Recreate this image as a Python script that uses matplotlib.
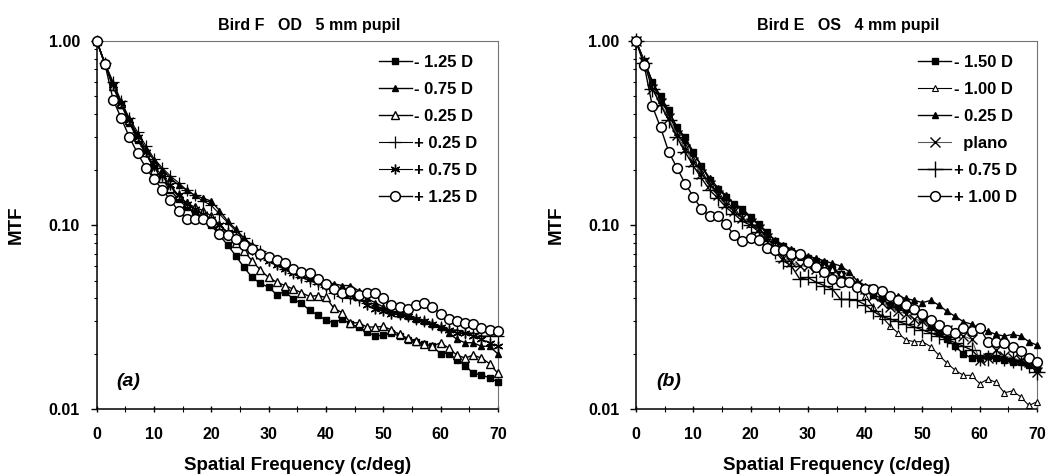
import numpy as np
import matplotlib
matplotlib.use("Agg")
import matplotlib.pyplot as plt
from matplotlib.ticker import FixedLocator, NullFormatter, LogLocator

plt.rcParams['font.family'] = ['Liberation Sans', 'DejaVu Sans']
plt.rcParams['font.weight'] = 'bold'

# Spatial frequency samples (c/deg)
freq = [0.00, 1.43, 2.86, 4.29, 5.71, 7.14, 8.57, 10.00, 11.43, 12.86,
        14.29, 15.71, 17.14, 18.57, 20.00, 21.43, 22.86, 24.29, 25.71, 27.14,
        28.57, 30.00, 31.43, 32.86, 34.29, 35.71, 37.14, 38.57, 40.00, 41.43,
        42.86, 44.29, 45.71, 47.14, 48.57, 50.00, 51.43, 52.86, 54.29, 55.71,
        57.14, 58.57, 60.00, 61.43, 62.86, 64.29, 65.71, 67.14, 68.57, 70.00]

# ---- Panel (a): Bird F, OD, 5 mm pupil ----
a_labels = ["- 1.25 D", "- 0.75 D", "- 0.25 D", "+ 0.25 D", "+ 0.75 D", "+ 1.25 D"]
a_m125 = [1.0, 0.75, 0.56, 0.45, 0.36, 0.29, 0.245, 0.205, 0.178, 0.155,
          0.138, 0.125, 0.118, 0.11, 0.10, 0.088, 0.078, 0.068, 0.059, 0.052,
          0.0483, 0.046, 0.042, 0.0436, 0.0397, 0.0376, 0.0346, 0.0325, 0.0305, 0.0295,
          0.031, 0.029, 0.028, 0.0264, 0.025, 0.0253, 0.026, 0.025, 0.0238, 0.0233,
          0.0226, 0.022, 0.0201, 0.0201, 0.0186, 0.0173, 0.0157, 0.0154, 0.0148, 0.0141]
a_m075 = [1.0, 0.75, 0.58, 0.45, 0.37, 0.31, 0.26, 0.225, 0.20, 0.18,
          0.165, 0.155, 0.145, 0.14, 0.135, 0.12, 0.105, 0.095, 0.085, 0.078,
          0.072, 0.066, 0.063, 0.060, 0.057, 0.055, 0.053, 0.051, 0.049, 0.048,
          0.047, 0.047, 0.044, 0.040, 0.038, 0.036, 0.034, 0.033, 0.032, 0.031,
          0.030, 0.029, 0.028, 0.026, 0.024, 0.023, 0.023, 0.022, 0.022, 0.020]
a_m025 = [1.0, 0.75, 0.57, 0.46, 0.37, 0.30, 0.25, 0.20, 0.18, 0.16,
          0.145, 0.132, 0.125, 0.12, 0.112, 0.10, 0.09, 0.08, 0.072, 0.064,
          0.057, 0.052, 0.049, 0.047, 0.045, 0.043, 0.041, 0.0415, 0.0405, 0.0353,
          0.0335, 0.0295, 0.0295, 0.028, 0.028, 0.0282, 0.027, 0.0255, 0.0243, 0.0235,
          0.0226, 0.022, 0.023, 0.0215, 0.0197, 0.019, 0.0197, 0.019, 0.0177, 0.0157]
a_p025 = [1.0, 0.76, 0.60, 0.47, 0.38, 0.32, 0.27, 0.23, 0.205, 0.185,
          0.17, 0.155, 0.145, 0.135, 0.128, 0.115, 0.103, 0.093, 0.085, 0.078,
          0.072, 0.065, 0.062, 0.058, 0.055, 0.052, 0.050, 0.048, 0.046, 0.043,
          0.041, 0.040, 0.039, 0.038, 0.036, 0.035, 0.034, 0.033, 0.032, 0.031,
          0.030, 0.029, 0.028, 0.027, 0.027, 0.026, 0.026, 0.025, 0.025, 0.025]
a_p075 = [1.0, 0.76, 0.58, 0.46, 0.37, 0.30, 0.25, 0.21, 0.185, 0.165,
          0.145, 0.13, 0.122, 0.115, 0.108, 0.10, 0.092, 0.085, 0.079, 0.073,
          0.068, 0.064, 0.061, 0.058, 0.055, 0.053, 0.051, 0.049, 0.047, 0.045,
          0.044, 0.042, 0.040, 0.037, 0.035, 0.034, 0.033, 0.033, 0.032, 0.031,
          0.030, 0.029, 0.028, 0.027, 0.026, 0.026, 0.025, 0.024, 0.023, 0.022]
a_p125 = [1.0, 0.75, 0.48, 0.38, 0.30, 0.245, 0.205, 0.178, 0.156, 0.137,
          0.119, 0.108, 0.108, 0.108, 0.104, 0.090, 0.088, 0.084, 0.078, 0.074,
          0.070, 0.067, 0.065, 0.062, 0.058, 0.056, 0.055, 0.051, 0.048, 0.045,
          0.043, 0.044, 0.042, 0.043, 0.043, 0.040, 0.037, 0.036, 0.035, 0.037,
          0.038, 0.036, 0.033, 0.031, 0.030, 0.0295, 0.029, 0.0275, 0.027, 0.0265]

# ---- Panel (b): Bird E, OS, 4 mm pupil ----
b_labels = ["- 1.50 D", "- 1.00 D", "- 0.25 D", "  plano", "+ 0.75 D", "+ 1.00 D"]
b_m150 = [1.0, 0.78, 0.60, 0.50, 0.42, 0.34, 0.30, 0.25, 0.21, 0.175,
          0.157, 0.143, 0.131, 0.123, 0.111, 0.101, 0.092, 0.082, 0.077, 0.072,
          0.069, 0.066, 0.064, 0.062, 0.058, 0.054, 0.050, 0.047, 0.045, 0.042,
          0.040, 0.037, 0.036, 0.035, 0.034, 0.031, 0.028, 0.026, 0.024, 0.022,
          0.020, 0.019, 0.019, 0.0195, 0.019, 0.0185, 0.018, 0.018, 0.0175, 0.0165]
b_m100 = [1.0, 0.78, 0.58, 0.48, 0.40, 0.32, 0.27, 0.23, 0.195, 0.17,
          0.15, 0.135, 0.122, 0.11, 0.102, 0.095, 0.087, 0.08, 0.074, 0.07,
          0.067, 0.064, 0.062, 0.060, 0.058, 0.055, 0.050, 0.046, 0.041, 0.036,
          0.032, 0.0285, 0.026, 0.0238, 0.0233, 0.0233, 0.0219, 0.0197, 0.0178, 0.0163,
          0.0153, 0.0153, 0.0138, 0.0146, 0.014, 0.0123, 0.0126, 0.0117, 0.0105, 0.011]
b_m025 = [1.0, 0.78, 0.60, 0.49, 0.41, 0.34, 0.29, 0.245, 0.21, 0.18,
          0.16, 0.145, 0.13, 0.12, 0.11, 0.10, 0.09, 0.083, 0.078, 0.074,
          0.071, 0.068, 0.066, 0.064, 0.062, 0.060, 0.056, 0.050, 0.047, 0.045,
          0.044, 0.042, 0.041, 0.040, 0.039, 0.038, 0.039, 0.0368, 0.034, 0.032,
          0.0299, 0.029, 0.0275, 0.0265, 0.0255, 0.025, 0.0255, 0.025, 0.0233, 0.0223]
b_plano = [1.0, 0.77, 0.55, 0.46, 0.38, 0.31, 0.26, 0.22, 0.19, 0.165,
           0.145, 0.13, 0.12, 0.11, 0.103, 0.095, 0.085, 0.075, 0.066, 0.063,
           0.060, 0.060, 0.058, 0.056, 0.054, 0.052, 0.050, 0.048, 0.045, 0.041,
           0.038, 0.036, 0.034, 0.033, 0.031, 0.030, 0.029, 0.028, 0.027, 0.026,
           0.025, 0.024, 0.0185, 0.019, 0.021, 0.0195, 0.019, 0.0185, 0.018, 0.016]
b_p075 = [1.0, 0.76, 0.55, 0.45, 0.37, 0.30, 0.25, 0.21, 0.18, 0.155,
          0.14, 0.125, 0.115, 0.105, 0.10, 0.092, 0.082, 0.072, 0.064, 0.060,
          0.051, 0.052, 0.049, 0.047, 0.045, 0.0395, 0.0395, 0.039, 0.037, 0.034,
          0.032, 0.031, 0.030, 0.029, 0.028, 0.027, 0.026, 0.025, 0.024, 0.023,
          0.022, 0.021, 0.019, 0.019, 0.0195, 0.019, 0.0185, 0.018, 0.0175, 0.016]
b_p100 = [1.0, 0.738, 0.442, 0.339, 0.25, 0.205, 0.168, 0.143, 0.122, 0.112,
          0.112, 0.101, 0.088, 0.082, 0.085, 0.083, 0.075, 0.073, 0.073, 0.070,
          0.070, 0.063, 0.059, 0.056, 0.051, 0.049, 0.049, 0.046, 0.045, 0.045,
          0.044, 0.041, 0.039, 0.037, 0.035, 0.033, 0.0305, 0.0287, 0.027, 0.0259,
          0.0275, 0.0266, 0.0275, 0.0233, 0.0233, 0.023, 0.0218, 0.0207, 0.019, 0.0181]

a_series = [a_m125, a_m075, a_m025, a_p025, a_p075, a_p125]
b_series = [b_m150, b_m100, b_m025, b_plano, b_p075, b_p100]

a_styles = [
    dict(marker='s', ms=4, mfc='black', mec='black', color='black', lw=1.0),
    dict(marker='^', ms=4.5, mfc='black', mec='black', color='black', lw=1.0),
    dict(marker='^', ms=6, mfc='white', mec='black', mew=1.0, color='black', lw=1.0),
    dict(marker='+', ms=9, mec='black', mew=0.9, color='black', lw=0.8),
    dict(marker=(6, 2, 0), ms=7, mec='black', mew=1.0, color='black', lw=0.8),
    dict(marker='o', ms=7, mfc='white', mec='black', mew=1.1, color='black', lw=1.0),
]
b_styles = [
    dict(marker='s', ms=4, mfc='black', mec='black', color='black', lw=1.0),
    dict(marker='^', ms=3.8, mfc='white', mec='black', mew=0.8, color='black', lw=0.8),
    dict(marker='^', ms=4.2, mfc='black', mec='black', color='black', lw=1.0),
    dict(marker='x', ms=6.5, mec='black', mew=1.0, color='0.35', lw=0.8),
    dict(marker='+', ms=11, mec='black', mew=1.0, color='black', lw=1.0),
    dict(marker='o', ms=7, mfc='white', mec='black', mew=1.1, color='black', lw=1.0),
]

fig = plt.figure(figsize=(10.5, 4.76), dpi=100)
ax_a = fig.add_axes([0.0921, 0.140, 0.382, 0.774])
ax_b = fig.add_axes([0.6057, 0.140, 0.382, 0.774])

panels = [
    (ax_a, a_series, a_labels, a_styles, "Bird F   OD   5 mm pupil", "(a)"),
    (ax_b, b_series, b_labels, b_styles, "Bird E   OS   4 mm pupil", "(b)"),
]

for ax, series, labels, styles, title, tag in panels:
    for vals, lab, st in zip(series, labels, styles):
        ax.plot(freq, vals, label=lab, clip_on=False, zorder=3, **st)
    ax.set_yscale('log')
    ax.set_xlim(0, 70)
    ax.set_ylim(0.01, 1.0)
    ax.set_xticks(range(0, 71, 10))
    ax.xaxis.set_minor_locator(FixedLocator(range(5, 70, 10)))
    ax.set_yticks([0.01, 0.1, 1.0])
    ax.set_yticklabels(["0.01", "0.10", "1.00"])
    ax.yaxis.set_minor_locator(LogLocator(base=10, subs=range(2, 10)))
    ax.yaxis.set_minor_formatter(NullFormatter())
    ax.tick_params(axis='y', which='major', direction='out', length=4, width=1,
                   labelsize=11.5, pad=8)
    ax.tick_params(axis='y', which='minor', direction='out', length=2.5, width=0.8)
    ax.tick_params(axis='x', which='major', direction='inout', length=5, width=1,
                   labelsize=11.5, pad=10)
    ax.tick_params(axis='x', which='minor', direction='inout', length=4, width=0.8)
    for lbl in ax.get_xticklabels() + ax.get_yticklabels():
        lbl.set_fontweight('bold')
    ax.spines['left'].set_color('black')
    ax.spines['bottom'].set_color('black')
    ax.spines['left'].set_linewidth(1.1)
    ax.spines['bottom'].set_linewidth(1.1)
    ax.spines['top'].set_color('0.45')
    ax.spines['right'].set_color('0.45')
    ax.spines['top'].set_linewidth(0.8)
    ax.spines['right'].set_linewidth(0.8)
    ax.set_xlabel("Spatial Frequency (c/deg)", fontsize=13.5, fontweight='bold', labelpad=11)
    ax.set_ylabel("MTF", fontsize=13.5, fontweight='bold', labelpad=17)
    ax.set_title(title, fontsize=11.5, fontweight='bold', pad=8, x=0.53)
    ax.text(0.05, 0.075, tag, transform=ax.transAxes, fontsize=14,
            fontweight='bold', fontstyle='italic', ha='left', va='center')
    leg = ax.legend(loc='upper right', bbox_to_anchor=(1.0, 1.016), frameon=False,
                    handlelength=2.0, handletextpad=0.15, labelspacing=0.72,
                    borderaxespad=0.8, prop={'weight': 'bold', 'size': 12})

fig.savefig("out.png", dpi=100)
